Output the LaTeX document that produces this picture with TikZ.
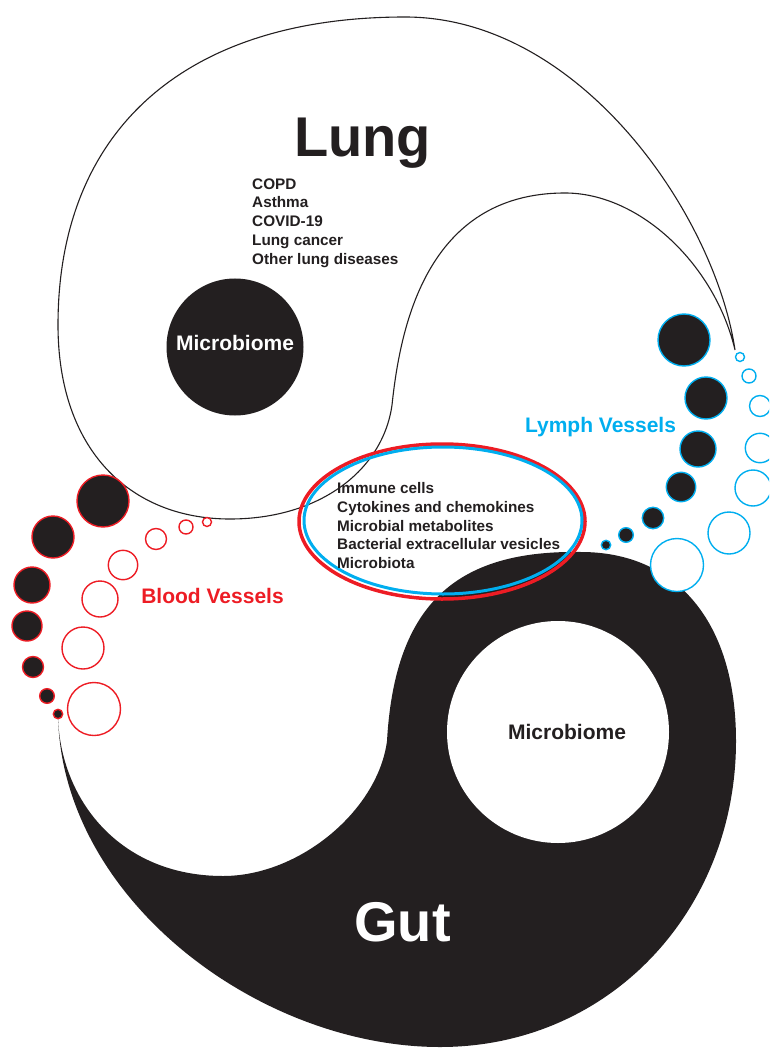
\documentclass[tikz,border=0pt]{standalone}
\usepackage{fontspec}
\setmainfont{Liberation Sans}
\definecolor{bloodred}{HTML}{ED1C24}
\definecolor{lymphblue}{HTML}{00AEEF}
\definecolor{gutblack}{HTML}{231F20}
\tikzset{
  organ/.style={draw=gutblack, line width=1.1pt, fill=white},
  gutbody/.style={fill=gutblack},
  bvdot/.style={fill=gutblack, draw=bloodred, line width=1.4pt},
  bvring/.style={fill=white, draw=bloodred, line width=1.4pt},
  lvdot/.style={fill=gutblack, draw=lymphblue, line width=1.4pt},
  lvring/.style={fill=white, draw=lymphblue, line width=1.4pt},
  ttl/.style={font=\fontsize{56}{60}\selectfont\bfseries, inner sep=0pt, anchor=base},
  mbtext/.style={font=\fontsize{21}{24}\selectfont\bfseries, inner sep=0pt, anchor=base},
  vsl/.style={font=\fontsize{21}{24}\selectfont\bfseries, inner sep=0pt, anchor=base},
  lst/.style={font=\fontsize{15.3}{18}\selectfont\bfseries, text=gutblack, inner sep=0pt, anchor=base west},
}

\begin{document}
\begin{tikzpicture}[x=1pt,y=-1pt]
  \useasboundingbox (0,0) rectangle (769,1048);
  \clip (0,0) rectangle (769,1048);
  % lung outline
  \draw[organ] (735,350) .. controls (715,215) and (580,17) .. (405,17)
    .. controls (185,17) and (58,130) .. (58,325)
    .. controls (58,450) and (130,519) .. (230,519)
    .. controls (320,519) and (383,470) .. (392,405)
    .. controls (400,330) and (425,193) .. (565,193)
    .. controls (640,193) and (715,265) .. (735,350) -- cycle;
  \fill[gutblack] (235,347) circle[radius=68.5pt];
  % gut body
  \fill[gutbody] (58,716) .. controls (62,900) and (260,1047) .. (440,1047)
    .. controls (610,1047) and (736,910) .. (736,741)
    .. controls (736,620) and (675,552) .. (581,552)
    .. controls (460,550) and (395,600) .. (387,741)
    .. controls (378,810) and (300,876) .. (223,876)
    .. controls (120,876) and (60,800) .. (58,716) -- cycle;
  \fill[white] (558,732) circle[radius=111pt];
  % blood vessels
  \draw[bvdot] (103,501) circle[radius=26pt];
  \draw[bvdot] (53,537) circle[radius=21pt];
  \draw[bvdot] (32,585) circle[radius=18pt];
  \draw[bvdot] (27,626) circle[radius=15pt];
  \draw[bvdot] (33,667) circle[radius=10.5pt];
  \draw[bvdot] (47,696) circle[radius=7.3pt];
  \draw[bvdot] (58,714) circle[radius=4.7pt];
  \draw[bvring] (207,522) circle[radius=4.5pt];
  \draw[bvring] (186,527) circle[radius=7pt];
  \draw[bvring] (156,539) circle[radius=10.5pt];
  \draw[bvring] (123,565) circle[radius=14.7pt];
  \draw[bvring] (100,599) circle[radius=18pt];
  \draw[bvring] (83,648) circle[radius=21pt];
  \draw[bvring] (94,709) circle[radius=26.5pt];
  % lymph vessels
  \draw[lvdot] (684,340) circle[radius=26pt];
  \draw[lvdot] (706,398) circle[radius=21pt];
  \draw[lvdot] (698,449) circle[radius=18pt];
  \draw[lvdot] (681,487) circle[radius=14.7pt];
  \draw[lvdot] (653,518) circle[radius=10.7pt];
  \draw[lvdot] (626,535) circle[radius=7.3pt];
  \draw[lvdot] (606,545) circle[radius=4.7pt];
  \draw[lvring] (740,357) circle[radius=4.5pt];
  \draw[lvring] (749,376) circle[radius=7pt];
  \draw[lvring] (760,406) circle[radius=10.5pt];
  \draw[lvring] (760,448) circle[radius=14.7pt];
  \draw[lvring] (753,488) circle[radius=18pt];
  \draw[lvring] (729,533) circle[radius=21pt];
  \draw[lvring] (677,565) circle[radius=26.5pt];
  % exchange ellipse
  \draw[bloodred, line width=3.5pt] (442,521.5) ellipse [x radius=143pt, y radius=77.5pt];
  \draw[lymphblue, line width=3pt] (443,520.5) ellipse [x radius=139pt, y radius=73.5pt];
  % labels
  \node[ttl, text=gutblack] (lungttl) at (362.5,157) {Lung};
  \node[ttl, text=white] (gutttl) at (402.5,941) {Gut};
  \node[mbtext, text=white] (lungmb) at (235,350) {Microbiome};
  \node[mbtext, text=gutblack] (gutmb) at (567,739) {Microbiome};
  \node[vsl, text=bloodred] (bvlbl) at (212.5,603) {Blood Vessels};
  \node[vsl, text=lymphblue] (lvlbl) at (600.5,432) {Lymph Vessels};
  \node[lst] (copd) at (252,189.5) {COPD};
  \node[lst] (asthma) at (252,208) {Asthma};
  \node[lst] (covid) at (252,226.5) {COVID-19};
  \node[lst] (lcancer) at (252,246) {Lung cancer};
  \node[lst] (otherld) at (252,264.5) {Other lung diseases};
  \node[lst] (immune) at (337,493.7) {Immune cells};
  \node[lst] (cytok) at (337,512.2) {Cytokines and chemokines};
  \node[lst] (metab) at (337,531) {Microbial metabolites};
  \node[lst] (bev) at (337,549.7) {Bacterial extracellular vesicles};
  \node[lst] (mbiota) at (337,568.5) {Microbiota};
\end{tikzpicture}
\end{document}
